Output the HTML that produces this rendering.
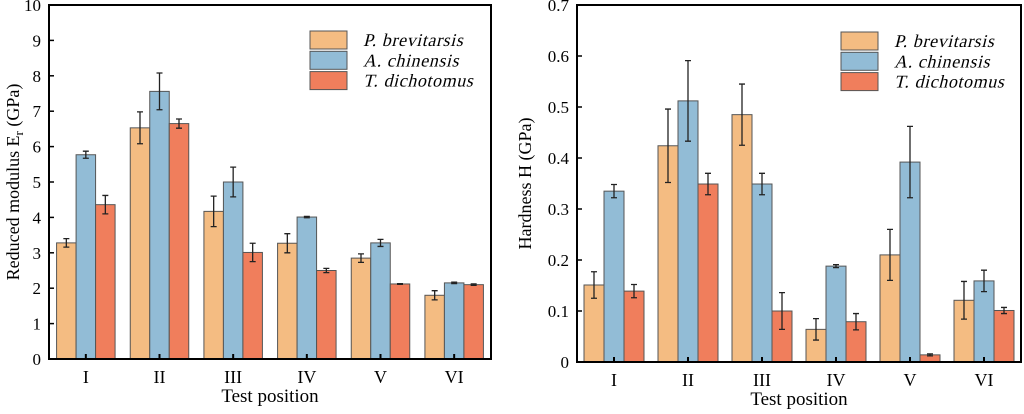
<!DOCTYPE html>
<html><head><meta charset="utf-8"><style>
html,body{margin:0;padding:0;background:#fff;}
svg, svg text{font-family:"Liberation Serif","Times New Roman",serif;}
</style></head><body>
<svg id="svg" width="1024" height="409" viewBox="0 0 1024 409" xmlns="http://www.w3.org/2000/svg" font-family="Liberation Serif, serif"></svg>
<script>
const categories = ["I","II","III","IV","V","VI"];
const seriesNames = ["P. brevitarsis","A. chinensis","T. dichotomus"];
const colors = ["#f4bc82","#92bcd6","#f07e5c"];
const modPB = [3.28,6.53,4.17,3.27,2.85,1.80];
const modAC = [5.77,7.56,5.00,4.01,3.28,2.15];
const modTD = [4.36,6.65,3.01,2.50,2.12,2.10];
const modPBerr = [0.12,0.45,0.43,0.27,0.12,0.13];
const modACerr = [0.10,0.52,0.42,0.02,0.10,0.02];
const modTDerr = [0.26,0.13,0.26,0.06,0.01,0.02];
const modTicks = [0,1,2,3,4,5,6,7,8,9,10];
const hardPB = [0.151,0.424,0.485,0.064,0.210,0.121];
const hardAC = [0.335,0.512,0.349,0.188,0.392,0.159];
const hardTD = [0.139,0.349,0.100,0.079,0.014,0.101];
const hardPBerr = [0.026,0.072,0.060,0.021,0.050,0.037];
const hardACerr = [0.013,0.079,0.021,0.003,0.070,0.021];
const hardTDerr = [0.013,0.021,0.036,0.016,0.002,0.006];
const hardTicks = [0,0.1,0.2,0.3,0.4,0.5,0.6,0.7];

const NS="http://www.w3.org/2000/svg";
const svg=document.getElementById('svg');
function mk(tag,attrs,parent,text){const e=document.createElementNS(NS,tag);for(const k in attrs)e.setAttribute(k,attrs[k]);if(text!==undefined)e.textContent=text;(parent||svg).appendChild(e);return e;}
const FF='Liberation Serif, serif';

function chart(o){
  const g=mk('g',{'font-family':FF});
  
  
  const y=v=>o.bottom-(v-o.min)/(o.max-o.min)*(o.bottom-o.top);
  const n=categories.length, step=(o.right-o.left)/n;
  const xc=i=>o.left+step*(i+0.5);
  const bw=o.bw;
  const vals=[o.s1,o.s2,o.s3], errs=[o.e1,o.e2,o.e3];
  for(let i=0;i<n;i++){
    for(let s=0;s<3;s++){
      const x0=xc(i)+(s-1.5)*bw;
      const r=mk('rect',{x:x0,y:y(vals[s][i]),width:bw,height:y(0)-y(vals[s][i]),fill:colors[s],stroke:'#555','stroke-width':1},g);
      
      
      const cx=x0+bw/2, hi=y(vals[s][i]+errs[s][i]), lo=y(vals[s][i]-errs[s][i]);
      const eb=mk('path',{d:`M${cx},${hi}V${lo}M${cx-3},${hi}H${cx+3}M${cx-3},${lo}H${cx+3}`,stroke:'#222','stroke-width':1.3,fill:'none'},g);
      
      
    }
    mk('line',{x1:xc(i),x2:xc(i),y1:o.bottom,y2:o.bottom-5,stroke:'#000','stroke-width':2},g);
    const t=mk('text',{x:xc(i),y:o.bottom+24,'text-anchor':'middle','font-size':18,'font-family':FF},g,categories[i]);
    
    
  }
  o.ticks.forEach(v=>{
    mk('line',{x1:o.left,x2:o.left+5,y1:y(v),y2:y(v),stroke:'#000','stroke-width':1.5},g);
    const t=mk('text',{x:o.left-8,y:y(v)+6,'text-anchor':'end','font-size':17,'font-family':FF},g,o.fmt(v));
    
    
  });
  const ax=mk('rect',{x:o.left,y:o.top,width:o.right-o.left,height:o.bottom-o.top,fill:'none',stroke:'#000','stroke-width':2},g);
  
  
  const xt=mk('text',{x:(o.left+o.right)/2,y:o.bottom+43,'text-anchor':'middle','font-size':19,'font-family':FF},g,'Test position');
  
  
  const yt=mk('text',{transform:`translate(${o.ytx},${(o.top+o.bottom)/2}) rotate(-90)`,'text-anchor':'middle','font-size':18,'font-family':FF},g);
  
  
  mk('tspan',{},yt,o.ytitle);
  mk('tspan',{},yt,o.yvar);
  if(o.ysub) mk('tspan',{'font-size':13,dy:4},yt,o.ysub);
  mk('tspan',{dy:o.ysub?-4:0},yt,' (GPa)');
  for(let s=0;s<3;s++){
    const yy=o.legY+s*20.3;
    const lr=mk('rect',{x:o.legX,y:yy,width:37,height:18,fill:colors[s],stroke:'#555','stroke-width':1},g);
    
    
    const tx=o.legX+53, ty=yy+15;
    const lt=mk('text',{x:0,y:0,transform:`translate(${tx},${ty}) skewX(-14)`,'font-size':18,'font-family':FF,'letter-spacing':0.6},g,seriesNames[s]);
    
    
  }
}
chart({name:'reduced-modulus-chart',left:49,right:491,top:5,bottom:359,min:0,max:10,bw:19.5,
  s1:modPB,s2:modAC,s3:modTD,e1:modPBerr,e2:modACerr,e3:modTDerr,ticks:modTicks,fmt:v=>String(v),
  ytitle:'Reduced modulus ',yvar:'E',ysub:'r',ytx:19,legX:310,legY:31});
chart({name:'hardness-chart',left:577,right:1021,top:5,bottom:362,min:0,max:0.7,bw:20,
  s1:hardPB,s2:hardAC,s3:hardTD,e1:hardPBerr,e2:hardACerr,e3:hardTDerr,ticks:hardTicks,fmt:v=>v===0?'0':v.toFixed(1),
  ytitle:'Hardness ',yvar:'H',ysub:null,ytx:531,legX:841,legY:32});
</script>
</body></html>
